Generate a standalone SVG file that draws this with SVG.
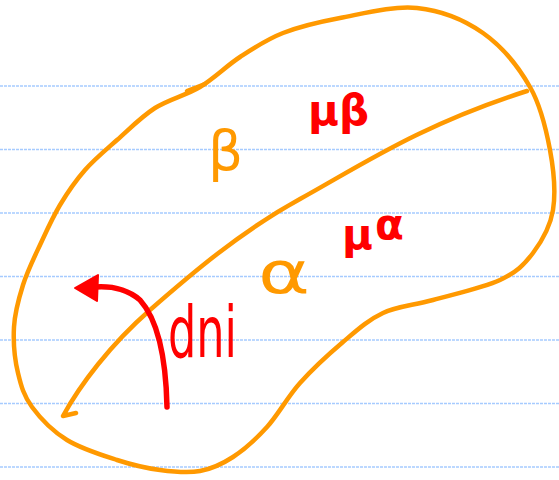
<svg xmlns="http://www.w3.org/2000/svg" width="559" height="480" viewBox="0 0 559 480">
<style>
.rule{stroke:#a6cbff;stroke-width:1.6;stroke-dasharray:3 1}
.or{fill:none;stroke:#ff9900;stroke-width:4.5;stroke-linecap:round;stroke-linejoin:round}
.rd{fill:none;stroke:#ff0000;stroke-width:5.5;stroke-linecap:round}
.t{font-family:"DejaVu Sans","Liberation Sans",sans-serif}
</style>
<rect width="559" height="480" fill="#ffffff"/>
<g id="ruling">
<line class="rule" x1="0" y1="86" x2="559" y2="86"/>
<line class="rule" x1="0" y1="149.5" x2="559" y2="149.5"/>
<line class="rule" x1="0" y1="213" x2="559" y2="213"/>
<line class="rule" x1="0" y1="276.5" x2="559" y2="276.5"/>
<line class="rule" x1="0" y1="340" x2="559" y2="340"/>
<line class="rule" x1="0" y1="403.5" x2="559" y2="403.5"/>
<line class="rule" x1="0" y1="467" x2="559" y2="467"/>
</g>
<g id="outline">
<path class="or" d="M117,140 C128.7,129.7 141.2,116.8 155,108 C168.8,99.2 185.8,95.5 200,87 C214.2,78.5 226.2,66 240,57 C253.8,48 266.3,39.5 283,33 C299.7,26.5 317.7,22.2 340,18 C362.3,13.8 393.2,5.5 417,8 C440.8,10.5 464.2,19.8 483,33 C501.8,46.2 518.8,67.5 530,87 C541.2,106.5 546.2,129.5 550,150 C553.8,170.5 555.8,192.8 553,210 C550.2,227.2 541.8,241.3 533,253 C524.2,264.7 516.7,272.2 500,280 C483.3,287.8 452.5,294.5 433,300 C413.5,305.5 398,306 383,313 C368,320 356.8,330.3 343,342 C329.2,353.7 312.7,368.8 300,383 C287.3,397.2 278.2,414.7 267,427 C255.8,439.3 244.2,449.7 233,457 C221.8,464.3 212.2,468.8 200,471 C187.8,473.2 173.8,471.8 160,470 C146.2,468.2 132.5,465 117,460 C101.5,455 81.2,448.8 67,440 C52.8,431.2 40.2,418.2 32,407 C23.8,395.8 21.2,386.3 18,373 C14.8,359.7 13.2,341.7 14,327 C14.8,312.3 18.7,298.7 23,285 C27.3,271.3 33.8,258.3 40,245 C46.2,231.7 52.5,217.5 60,205 C67.5,192.5 75.5,180.8 85,170 C94.5,159.2 105.3,150.3 117,140 Z"/>
<path class="or" stroke-width="7" d="M187,91 L205,84"/>
</g>
<g id="interface">
<path class="or" d="M76,413 L63,416 C80,385 110,345 150,310 S240,232 300,199 S420,125 527,91"/>
</g>
<g id="arrow">
<path class="rd" d="M167,407 C166,360 158,320 140,300 C128,290 115,286 96,287"/>
<polygon points="75,288 98,275 97,301" fill="#ff0000" stroke="#ff0000" stroke-width="2" stroke-linejoin="round"/>
</g>
<g id="labels">
<text class="t" x="208" y="170" font-size="55" fill="#ff9900">β</text>
<text class="t" x="258" y="293" font-size="58" fill="#ff9900" textLength="52" lengthAdjust="spacingAndGlyphs">α</text>
<text class="t" x="308" y="125" font-size="42" font-weight="bold" fill="#ff0000">μβ</text>
<text class="t" x="342" y="249" font-size="42" font-weight="bold" fill="#ff0000">μ<tspan dy="-10" dx="2">α</tspan></text>
<text class="t" transform="translate(168,357) scale(0.62,1)" font-size="72" fill="#ff0000">dni</text>
</g>
</svg>
